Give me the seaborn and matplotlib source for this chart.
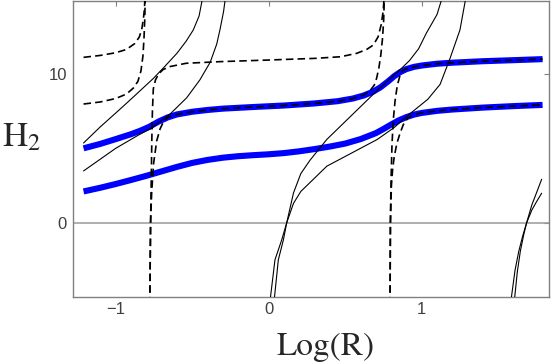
import matplotlib
matplotlib.use("Agg")
import matplotlib.pyplot as plt
import seaborn as sns

# thick blue curves
blue_low_x = [-1.21, -1.1, -1.0, -0.9, -0.8, -0.7, -0.6, -0.5, -0.4, -0.3, -0.2, -0.1, 0.0, 0.1, 0.2, 0.3, 0.4, 0.5,
              0.6, 0.7, 0.75, 0.8, 0.85, 0.9, 0.95, 1.0, 1.1, 1.2, 1.4, 1.6, 1.79]
blue_low_y = [2.1, 2.35, 2.6, 2.87, 3.15, 3.45, 3.75, 4.02, 4.22, 4.37, 4.47, 4.54, 4.6, 4.68, 4.8, 4.95, 5.12, 5.32,
              5.62, 6.02, 6.3, 6.6, 6.88, 7.1, 7.27, 7.38, 7.52, 7.61, 7.74, 7.84, 7.92]
blue_up_x = [-1.21, -1.1, -1.0, -0.9, -0.84, -0.78, -0.72, -0.66, -0.6, -0.5, -0.4, -0.3, -0.1, 0.1, 0.3, 0.45, 0.55,
             0.62, 0.68, 0.73, 0.78, 0.82, 0.86, 0.9, 0.95, 1.0, 1.1, 1.2, 1.4, 1.6, 1.79]
blue_up_y = [5.0, 5.3, 5.62, 5.95, 6.18, 6.45, 6.8, 7.08, 7.28, 7.46, 7.58, 7.67, 7.78, 7.88, 8.02, 8.17, 8.35,
             8.55, 8.8, 9.1, 9.5, 9.85, 10.13, 10.33, 10.48, 10.57, 10.69, 10.76, 10.86, 10.93, 11.0]

# dashed branches
dash1_x = [-1.21, -1.1, -1.0, -0.93, -0.885, -0.855, -0.835, -0.822, -0.815, -0.81, -0.806]
dash1_y = [7.98, 8.12, 8.35, 8.65, 9.05, 9.5, 10.2, 11.2, 12.4, 13.7, 15.5]
dash2_x = [-1.21, -1.1, -1.0, -0.93, -0.875, -0.845, -0.828, -0.818, -0.812, -0.807]
dash2_y = [11.12, 11.25, 11.43, 11.65, 12.05, 12.5, 13.1, 13.8, 14.4, 15.5]
dash3_x = [-0.777, -0.772, -0.765, -0.752, -0.732, -0.71, -0.69, -0.66, -0.6, -0.5, -0.4, -0.3, -0.1, 0.1, 0.3,
           0.45, 0.55, 0.62, 0.66, 0.69, 0.705, 0.72, 0.733, 0.743, 0.751, 0.757]
dash3_y = [-5.5, 0.0, 2.0, 4.0, 5.5, 6.3, 6.75, 7.08, 7.28, 7.46, 7.58, 7.67, 7.78, 7.88, 8.02,
           8.17, 8.35, 8.58, 8.85, 9.25, 9.7, 10.4, 11.3, 12.3, 13.5, 15.5]
dash4_x = [-0.777, -0.772, -0.766, -0.764, -0.76, -0.754, -0.74, -0.72, -0.69, -0.645, -0.54, -0.32, 0.0, 0.3,
           0.47, 0.575, 0.64, 0.684, 0.715, 0.735, 0.748, 0.757]
dash4_y = [-5.5, 0.0, 4.0, 5.5, 7.5, 9.0, 9.6, 10.0, 10.3, 10.5, 10.72, 10.83, 10.94, 11.05,
           11.16, 11.39, 11.65, 11.95, 12.5, 13.3, 14.2, 15.5]
dash5_x = [0.793, 0.795, 0.80, 0.806, 0.815, 0.826, 0.84, 0.858, 0.88, 0.9, 0.95, 1.0, 1.1, 1.2, 1.4, 1.6, 1.79]
dash5_y = [-5.5, 0.0, 3.0, 5.3, 7.0, 8.2, 9.2, 9.9, 10.25, 10.35, 10.48, 10.57, 10.69, 10.76, 10.86, 10.93, 11.0]
dash6_x = [0.793, 0.796, 0.802, 0.81, 0.82, 0.837, 0.858, 0.88, 0.91, 0.95, 1.0, 1.1, 1.2, 1.4, 1.6, 1.79]
dash6_y = [-5.5, 0.0, 2.5, 3.6, 4.4, 5.3, 6.0, 6.6, 7.05, 7.27, 7.38, 7.52, 7.61, 7.74, 7.84, 7.92]

# thin solid branches
solid1_x = [-1.21, -1.1, -0.97, -0.885, -0.754, -0.68, -0.6, -0.54, -0.493, -0.455, -0.425]
solid1_y = [5.36, 6.45, 7.65, 8.45, 9.7, 10.5, 11.39, 12.2, 12.96, 13.9, 15.5]
solid2_x = [-1.21, -1.0, -0.85, -0.776, -0.645, -0.536, -0.45, -0.382, -0.34, -0.318, -0.295, -0.278]
solid2_y = [3.48, 5.0, 5.9, 6.3, 7.3, 8.4, 9.6, 10.8, 12.0, 13.0, 14.2, 15.5]
solid3_x = [0.033, 0.063, 0.096, 0.118, 0.162, 0.21, 0.27, 0.38, 0.49, 0.6, 0.71, 0.86, 0.92, 0.98, 1.03, 1.1, 1.145]
solid3_y = [-5.5, -2.5, -1.16, 0.0, 2.0, 3.3, 4.2, 5.6, 6.7, 7.8, 8.9, 10.3, 10.9, 11.7, 12.74, 14.0, 15.5]
solid4_x = [0.006, 0.041, 0.085, 0.118, 0.162, 0.21, 0.27, 0.38, 0.49, 0.6, 0.71, 0.82, 0.92, 1.04, 1.12, 1.18,
            1.25, 1.295]
solid4_y = [-5.5, -2.5, -1.16, 0.0, 1.3, 2.1, 2.7, 3.8, 4.4, 5.0, 5.6, 6.4, 7.3, 8.3, 9.3, 10.9,
            12.96, 15.5]
solid5_x = [1.603, 1.625, 1.645, 1.667, 1.686, 1.72, 1.75, 1.784]
solid5_y = [-5.5, -3.3, -1.9, -0.8, 0.0, 1.2, 2.0, 2.92]
solid6_x = [1.58, 1.61, 1.635, 1.66, 1.686, 1.72, 1.75, 1.784]
solid6_y = [-5.5, -3.2, -1.9, -0.9, 0.0, 0.85, 1.4, 1.98]

x_ticks = [-1, 0, 1]
y_ticks = [0, 10]

sns.set_style("white")
plt.rcParams["mathtext.fontset"] = "stix"

fig = plt.figure(figsize=(5.54, 3.62), dpi=100)
ax = fig.add_axes([73 / 554, 65 / 362, 476 / 554, 296 / 362])

ax.axhline(0, color="#999999", lw=1.1, zorder=1)

for xs, ys in [(blue_low_x, blue_low_y), (blue_up_x, blue_up_y)]:
    sns.lineplot(x=xs, y=ys, sort=False, estimator=None, color="#0000ff",
                 lw=4.4, solid_capstyle="butt", solid_joinstyle="round", ax=ax, zorder=2)

for xs, ys in [(solid1_x, solid1_y), (solid2_x, solid2_y), (solid3_x, solid3_y),
               (solid4_x, solid4_y), (solid5_x, solid5_y), (solid6_x, solid6_y)]:
    sns.lineplot(x=xs, y=ys, sort=False, estimator=None, color="black",
                 lw=0.8, ax=ax, zorder=3)

for xs, ys in [(dash1_x, dash1_y), (dash2_x, dash2_y), (dash3_x, dash3_y),
               (dash4_x, dash4_y), (dash5_x, dash5_y), (dash6_x, dash6_y)]:
    sns.lineplot(x=xs, y=ys, sort=False, estimator=None, color="black",
                 lw=1.2, linestyle=(0, (4.5, 2.5)), ax=ax, zorder=4)

ax.set_xlim(-1.279, 1.832)
ax.set_ylim(-5.0, 14.91)
ax.set_xticks(x_ticks)
ax.set_yticks(y_ticks)
ax.tick_params(direction="in", length=3.5, width=0.8, color="#808080",
               top=True, right=True, labelcolor="#404040", labelsize=12)
ax.tick_params(axis="x", pad=3.5)
ax.tick_params(axis="y", pad=4.5)
for lab in ax.get_xticklabels() + ax.get_yticklabels():
    lab.set_family("Liberation Sans")
for sp in ax.spines.values():
    sp.set_color("#808080")
    sp.set_linewidth(1.0)

fig.text(2 / 554, 1 - 145.7 / 362, r"$\mathrm{H}_2$", fontsize=25,
         va="baseline", ha="left")
fig.text(277 / 554, 1 - 355 / 362, "Log(R)", fontsize=24,
         family="STIXGeneral", va="baseline", ha="left")

fig.savefig("out.png", dpi=100)
